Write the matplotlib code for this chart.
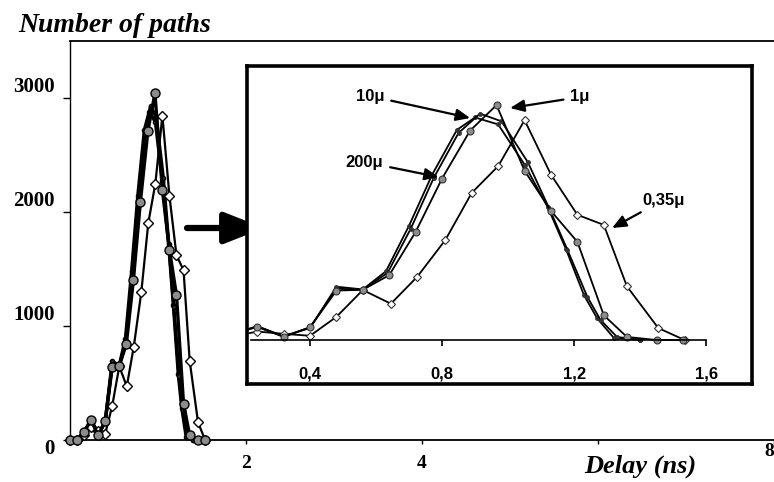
import matplotlib
matplotlib.use("Agg")
import matplotlib.pyplot as plt
import matplotlib.transforms as mtransforms

plt.rcParams["font.family"] = ["Liberation Serif", "DejaVu Serif"]

# delay (ns) / number of paths
x_10u = [0.00, 0.08, 0.16, 0.24, 0.32, 0.40, 0.48, 0.56, 0.635, 0.705,
         0.775, 0.85, 0.915, 0.98, 1.06, 1.125, 1.18, 1.24, 1.28, 1.33, 1.40]
y_10u = [0, 0, 70, 170, 45, 165, 665, 650, 870, 1440,
         2100, 2680, 2930, 2830, 2300, 1700, 1165, 560, 260, 40, 0]

x_200u = [0.00, 0.08, 0.16, 0.24, 0.32, 0.40, 0.48, 0.56, 0.63, 0.70,
          0.77, 0.845, 0.90, 0.97, 1.05, 1.12, 1.175, 1.23, 1.27, 1.32, 1.40]
y_200u = [0, 0, 70, 180, 50, 155, 690, 655, 890, 1480,
          2140, 2720, 2880, 2790, 2270, 1720, 1180, 580, 280, 30, 0]

x_1u = [0.00, 0.08, 0.16, 0.24, 0.32, 0.40, 0.48, 0.56, 0.64, 0.72,
        0.80, 0.885, 0.965, 1.05, 1.13, 1.21, 1.29, 1.36, 1.45, 1.53]
y_1u = [0, 0, 70, 175, 40, 165, 640, 650, 840, 1400,
        2090, 2710, 3040, 2190, 1670, 1270, 320, 40, 0, 0]

x_035u = [0.00, 0.08, 0.16, 0.24, 0.32, 0.40, 0.48, 0.56, 0.645, 0.725,
          0.81, 0.89, 0.97, 1.05, 1.13, 1.21, 1.29, 1.36, 1.455, 1.535]
y_035u = [0, 0, 40, 110, 80, 55, 300, 647, 470, 820,
          1295, 1905, 2250, 2845, 2140, 1620, 1490, 695, 155, 0]

main_xticks = [2, 4, 6, 8]
main_xlabels = ["2", "4", "", "8"]
main_yticks = [0, 1000, 2000, 3000]
inset_xticks = [0.4, 0.8, 1.2, 1.6]
inset_xlabels = ["0,4", "0,8", "1,2", "1,6"]

GREY = "#8c8c8c"

fig = plt.figure(figsize=(7.74, 4.82), dpi=100)

# ---- main axes
ax = fig.add_axes([70 / 774, 42 / 482, 704 / 774, 399 / 482])
ax.plot(x_200u, y_200u, color="black", lw=2.4, marker="o", ms=3,
        mfc="#333333", mec="black", clip_on=False, zorder=3)
ax.plot(x_10u, y_10u, color="black", lw=2.4, marker="o", ms=3,
        mfc="#333333", mec="black", clip_on=False, zorder=3)
ax.plot(x_035u, y_035u, color="black", lw=1.6, marker="D", ms=5.5,
        mfc="white", mec="black", mew=1.0, clip_on=False, zorder=4)
ax.plot(x_1u, y_1u, color="black", lw=2.4, marker="o", ms=6.5,
        mfc=GREY, mec="black", mew=1.0, clip_on=False, zorder=5)

ax.set_xlim(0, 8.0)
ax.set_ylim(0, 3500)
ax.spines["right"].set_visible(False)
ax.spines["left"].set_linewidth(1.0)
ax.spines["bottom"].set_linewidth(1.3)
ax.spines["top"].set_linewidth(1.3)
ax.set_yticks(main_yticks)
yl = ax.set_yticklabels([str(v) for v in main_yticks], fontsize=15, fontweight="bold")
ax.set_xticks(main_xticks)
xl = ax.set_xticklabels(main_xlabels, fontsize=14, fontweight="bold")
xl[-1].set_ha("right")
ax.tick_params(axis="y", direction="out", length=5, width=1, pad=6)
ax.tick_params(axis="x", direction="out", length=3, width=1, pad=8)

# the scan has the y labels sitting above their ticks, "0" slightly below
up = mtransforms.ScaledTranslation(0, 14 / 100, fig.dpi_scale_trans)
down = mtransforms.ScaledTranslation(0, -6 / 100, fig.dpi_scale_trans)
for lbl in yl:
    lbl.set_transform(lbl.get_transform() + (down if lbl.get_text() == "0" else up))
xl[-1].set_transform(xl[-1].get_transform()
                     + mtransforms.ScaledTranslation(0, 12 / 100, fig.dpi_scale_trans))

fig.text(18 / 774, 1 - 26 / 482, "Number of paths", fontsize=20,
         fontweight="bold", fontstyle="italic", va="center", ha="left")
fig.text(640 / 774, 1 - 466 / 482, "Delay (ns)", fontsize=19,
         fontweight="bold", fontstyle="italic", va="center", ha="center")

# big arrow pointing at the zoom
ax.annotate("", xy=(264 / 774, 1 - 228 / 482), xytext=(187 / 774, 1 - 228 / 482),
            xycoords="figure fraction", textcoords="figure fraction",
            arrowprops=dict(arrowstyle="-|>,head_length=2.4,head_width=0.95",
                            lw=4.5, color="black", shrinkA=0, shrinkB=0))

# ---- inset (zoom on the peak)
rect = [247 / 774, (482 - 384) / 482, 505 / 774, 318 / 482]
axf = fig.add_axes(rect, zorder=3)
axf.set_xticks([])
axf.set_yticks([])
for s in axf.spines.values():
    s.set_linewidth(2.6)

axi = fig.add_axes(rect, zorder=4)
axi.patch.set_alpha(0)
axi.plot(x_200u, y_200u, color="black", lw=1.3, marker="o", ms=2.5,
         mfc="#333333", mec="#333333")
axi.plot(x_10u, y_10u, color="black", lw=1.3, marker="o", ms=2.5,
         mfc="#333333", mec="#333333")
axi.plot(x_035u, y_035u, color="black", lw=1.3, marker="D", ms=4.5,
         mfc="white", mec="#333333", mew=0.8)
axi.plot(x_1u, y_1u, color="black", lw=1.3, marker="o", ms=5,
         mfc=GREY, mec="#333333", mew=0.8)

axi.set_xlim(0.209, 1.739)
axi.set_ylim(-569, 3546)
for k in ("top", "left", "right"):
    axi.spines[k].set_visible(False)
axi.spines["bottom"].set_position(("data", 0))
axi.spines["bottom"].set_bounds(0.22, 1.6)
axi.spines["bottom"].set_linewidth(1.2)
axi.set_yticks([])
axi.set_xticks(inset_xticks)
axi.set_xticklabels(inset_xlabels, family=["Liberation Sans", "DejaVu Sans"],
                    fontsize=12, fontweight="bold")
axi.tick_params(axis="x", direction="out", length=4, width=1.2, pad=15)

sans = dict(family=["Liberation Sans", "DejaVu Sans"], fontsize=12,
            fontweight="bold", ha="center", va="center")
arrow = dict(arrowstyle="-|>,head_length=0.7,head_width=0.3", lw=1.6,
             color="black", shrinkA=3, shrinkB=0)
axi.annotate("10\u03bc", xy=(0.885, 2873), xytext=(0.582, 3157),
             arrowprops=arrow, **sans)
axi.annotate("1\u03bc", xy=(1.006, 3002), xytext=(1.218, 3145),
             arrowprops=arrow, **sans)
axi.annotate("200\u03bc", xy=(0.79, 2109), xytext=(0.565, 2303),
             arrowprops=arrow, **sans)
axi.annotate("0,35\u03bc", xy=(1.315, 1449), xytext=(1.47, 1812),
             arrowprops=arrow, **sans)

fig.savefig("out.png", dpi=100)
